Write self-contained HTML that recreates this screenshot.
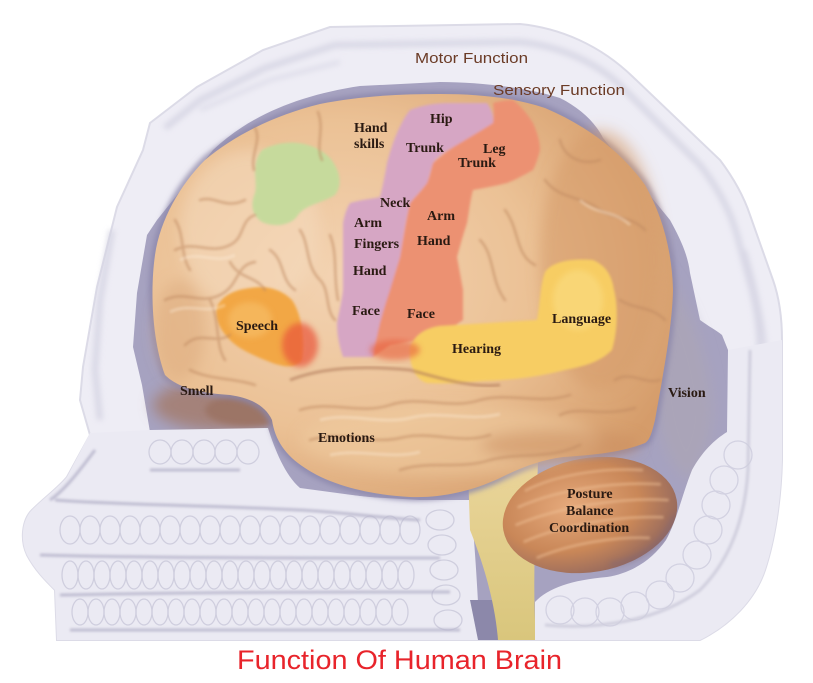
<!DOCTYPE html>
<html><head><meta charset="utf-8"><style>
html,body{margin:0;padding:0;background:#fff;}
svg{display:block;}
.l{font-family:"Liberation Serif",serif;font-weight:bold;font-size:14px;fill:#2a1a12;}
.t{font-family:"Liberation Sans",sans-serif;font-size:15px;fill:#6b3b26;}
</style></head><body>
<svg width="813" height="683" viewBox="0 0 813 683" xmlns="http://www.w3.org/2000/svg">
<defs>
<filter id="b1" x="-10%" y="-10%" width="120%" height="120%"><feGaussianBlur stdDeviation="1.2"/></filter>
<filter id="b3" x="-20%" y="-20%" width="140%" height="140%"><feGaussianBlur stdDeviation="3"/></filter>
<filter id="b6" x="-30%" y="-30%" width="160%" height="160%"><feGaussianBlur stdDeviation="7"/></filter>
<radialGradient id="brain" cx="0.35" cy="0.45" r="0.7">
<stop offset="0" stop-color="#f3d3b2"/><stop offset="0.55" stop-color="#ebc195"/><stop offset="1" stop-color="#d59c6a"/>
</radialGradient>
<radialGradient id="cereb" cx="0.4" cy="0.4" r="0.65">
<stop offset="0" stop-color="#e6aa7c"/><stop offset="0.6" stop-color="#c98758"/><stop offset="1" stop-color="#93685e"/>
</radialGradient>
<linearGradient id="stem" x1="0" y1="0" x2="0" y2="1">
<stop offset="0" stop-color="#ead59a"/><stop offset="1" stop-color="#d9c67c"/>
</linearGradient>
</defs>

<!-- head silhouette -->
<path d="M150,123 L197,87 L263,50 L330,27 L520,24 C560,28 600,45 633,77 L720,160 C735,180 745,200 750,215 L773,280 C780,300 782,320 782,340 L782,460 C781,500 775,540 765,570 C755,600 730,625 700,640 L57,640 L55,590 C45,580 35,570 27,555 C20,540 22,520 32,510 C45,497 58,488 67,477 L90,435 L80,400 L83,367 L97,287 L117,207 L143,150 Z" fill="#eeedf5" stroke="#dcdbe7" stroke-width="2"/>
<!-- skull band shading -->
<g filter="url(#b3)" fill="none" stroke="#d4d3e2" opacity="0.85">
<path d="M165,128 L200,100 L265,68 L335,45 L520,42 C560,46 595,62 620,85 L700,165 C718,188 730,210 737,235 L752,290 C758,315 760,335 760,360 L760,470" stroke-width="6"/>
<path d="M112,230 L100,300 L95,370 L100,420" stroke-width="6"/>
<path d="M745,250 C757,290 765,330 768,370 L770,480 C768,530 760,570 740,600" stroke-width="3"/>
<path d="M200,110 L270,80 L340,62" stroke-width="3"/>
</g>

<!-- cavity -->
<path d="M213,150 C250,115 300,95 360,86 L440,82 C480,82 530,88 560,98 C580,108 595,122 603,138 L670,220 C680,238 688,255 690,273 L700,320 C708,326 716,330 722,335 L728,350 L728,435 C726,455 720,470 712,480 L700,500 L690,530 L670,565 L620,590 L540,600 L535,640 L480,640 L470,500 L420,502 L300,490 L277,468 L268,435 L150,432 L142,385 L133,347 L137,293 L147,235 L157,220 Z" fill="#a6a2c0"/>
<path d="M655,260 C690,300 705,350 712,400 C714,430 705,460 690,480 C670,470 660,440 655,400 Z" fill="#aaa4b8" filter="url(#b6)"/>
<ellipse cx="225" cy="405" rx="72" ry="26" fill="#a4827a" filter="url(#b6)"/>
<ellipse cx="250" cy="410" rx="45" ry="16" fill="#9c7466" filter="url(#b3)"/>

<!-- face rings -->
<path d="M90,433 L150,430 L268,428 C275,450 285,475 300,488 L367,497 L420,500 L470,500 C475,540 478,600 480,640 L57,640 L55,590 C45,580 35,570 27,555 C20,540 22,520 32,510 C45,497 58,488 67,477 Z" fill="#ebeaf3"/>
<g fill="none" stroke="#c4c3d6" stroke-width="1.3" opacity="0.7">
<ellipse cx="160" cy="452" rx="11" ry="12"/><ellipse cx="182" cy="452" rx="11" ry="12"/><ellipse cx="204" cy="452" rx="11" ry="12"/><ellipse cx="226" cy="452" rx="11" ry="12"/><ellipse cx="248" cy="452" rx="11" ry="12"/>
<ellipse cx="70" cy="530" rx="10" ry="14"/><ellipse cx="90" cy="530" rx="10" ry="14"/><ellipse cx="110" cy="530" rx="10" ry="14"/><ellipse cx="130" cy="530" rx="10" ry="14"/><ellipse cx="150" cy="530" rx="10" ry="14"/><ellipse cx="170" cy="530" rx="10" ry="14"/><ellipse cx="190" cy="530" rx="10" ry="14"/><ellipse cx="210" cy="530" rx="10" ry="14"/><ellipse cx="230" cy="530" rx="10" ry="14"/><ellipse cx="250" cy="530" rx="10" ry="14"/><ellipse cx="270" cy="530" rx="10" ry="14"/><ellipse cx="290" cy="530" rx="10" ry="14"/><ellipse cx="310" cy="530" rx="10" ry="14"/><ellipse cx="330" cy="530" rx="10" ry="14"/><ellipse cx="350" cy="530" rx="10" ry="14"/><ellipse cx="370" cy="530" rx="10" ry="14"/><ellipse cx="390" cy="530" rx="10" ry="14"/><ellipse cx="410" cy="530" rx="10" ry="14"/>
<ellipse cx="70" cy="575" rx="8" ry="14"/><ellipse cx="86" cy="575" rx="8" ry="14"/><ellipse cx="102" cy="575" rx="8" ry="14"/><ellipse cx="118" cy="575" rx="8" ry="14"/><ellipse cx="134" cy="575" rx="8" ry="14"/><ellipse cx="150" cy="575" rx="8" ry="14"/><ellipse cx="166" cy="575" rx="8" ry="14"/><ellipse cx="182" cy="575" rx="8" ry="14"/><ellipse cx="198" cy="575" rx="8" ry="14"/><ellipse cx="214" cy="575" rx="8" ry="14"/><ellipse cx="230" cy="575" rx="8" ry="14"/><ellipse cx="246" cy="575" rx="8" ry="14"/><ellipse cx="262" cy="575" rx="8" ry="14"/><ellipse cx="278" cy="575" rx="8" ry="14"/><ellipse cx="294" cy="575" rx="8" ry="14"/><ellipse cx="310" cy="575" rx="8" ry="14"/><ellipse cx="326" cy="575" rx="8" ry="14"/><ellipse cx="342" cy="575" rx="8" ry="14"/><ellipse cx="358" cy="575" rx="8" ry="14"/><ellipse cx="374" cy="575" rx="8" ry="14"/><ellipse cx="390" cy="575" rx="8" ry="14"/><ellipse cx="406" cy="575" rx="8" ry="14"/>
<ellipse cx="80" cy="612" rx="8" ry="13"/><ellipse cx="96" cy="612" rx="8" ry="13"/><ellipse cx="112" cy="612" rx="8" ry="13"/><ellipse cx="128" cy="612" rx="8" ry="13"/><ellipse cx="144" cy="612" rx="8" ry="13"/><ellipse cx="160" cy="612" rx="8" ry="13"/><ellipse cx="176" cy="612" rx="8" ry="13"/><ellipse cx="192" cy="612" rx="8" ry="13"/><ellipse cx="208" cy="612" rx="8" ry="13"/><ellipse cx="224" cy="612" rx="8" ry="13"/><ellipse cx="240" cy="612" rx="8" ry="13"/><ellipse cx="256" cy="612" rx="8" ry="13"/><ellipse cx="272" cy="612" rx="8" ry="13"/><ellipse cx="288" cy="612" rx="8" ry="13"/><ellipse cx="304" cy="612" rx="8" ry="13"/><ellipse cx="320" cy="612" rx="8" ry="13"/><ellipse cx="336" cy="612" rx="8" ry="13"/><ellipse cx="352" cy="612" rx="8" ry="13"/><ellipse cx="368" cy="612" rx="8" ry="13"/><ellipse cx="384" cy="612" rx="8" ry="13"/><ellipse cx="400" cy="612" rx="8" ry="13"/>
<ellipse cx="440" cy="520" rx="14" ry="10"/><ellipse cx="442" cy="545" rx="14" ry="10"/><ellipse cx="444" cy="570" rx="14" ry="10"/><ellipse cx="446" cy="595" rx="14" ry="10"/><ellipse cx="448" cy="620" rx="14" ry="10"/>
</g>
<g fill="none" stroke="#b7b5cb" stroke-width="3" filter="url(#b1)" opacity="0.85">
<path d="M150,470 L240,470"/>
<path d="M55,500 C120,505 200,505 300,510 C340,512 380,518 420,520"/>
<path d="M40,555 C150,558 300,558 440,558"/>
<path d="M60,595 C200,592 330,592 450,592"/>
<path d="M70,630 L460,630"/>
<path d="M95,450 C80,470 65,490 50,500"/>
</g>
<path d="M470,600 L497,600 L500,640 L478,640 Z" fill="#8c88aa"/>

<!-- brainstem -->
<path d="M468,470 L538,462 C536,520 532,580 536,640 L498,640 C495,600 482,560 470,530 Z" fill="url(#stem)"/>

<!-- cerebellum -->
<g transform="rotate(-10 590 515)">
<ellipse cx="590" cy="515" rx="88" ry="57" fill="url(#cereb)"/>
<g fill="none" stroke="#f0c298" stroke-width="2.5" opacity="0.55" filter="url(#b1)">
<path d="M530,480 C560,470 610,470 650,480"/>
<path d="M520,495 C560,485 615,485 665,497"/>
<path d="M515,512 C560,502 620,502 670,514"/>
<path d="M520,530 C560,520 615,520 662,530"/>
<path d="M530,548 C565,540 610,540 645,548"/>
</g>
</g>
<path d="M610,565 C640,560 665,545 675,515" fill="none" stroke="#7f6678" stroke-width="5" opacity="0.5" filter="url(#b3)"/>

<!-- right rings -->
<path d="M535,640 L535,602 C548,588 572,580 607,577 C632,573 652,560 666,540 C677,520 682,495 692,470 C702,452 714,440 727,432 L728,350 L782,340 L782,460 C781,500 775,540 765,570 C755,600 730,625 700,640 Z" fill="#ebeaf3"/>
<g fill="none" stroke="#c6c5d8" stroke-width="1.3" opacity="0.65">
<ellipse cx="560" cy="610" rx="14" ry="14"/><ellipse cx="585" cy="612" rx="14" ry="14"/><ellipse cx="610" cy="612" rx="14" ry="14"/><ellipse cx="635" cy="606" rx="14" ry="14"/><ellipse cx="660" cy="595" rx="14" ry="14"/><ellipse cx="680" cy="578" rx="14" ry="14"/><ellipse cx="697" cy="555" rx="14" ry="14"/><ellipse cx="708" cy="530" rx="14" ry="14"/><ellipse cx="716" cy="505" rx="14" ry="14"/><ellipse cx="724" cy="480" rx="14" ry="14"/><ellipse cx="738" cy="455" rx="14" ry="14"/>
</g>
<path d="M545,625 C600,630 660,620 700,590 C730,560 745,520 748,470 L750,350" fill="none" stroke="#cfcedd" stroke-width="3" filter="url(#b1)"/>

<!-- cerebrum -->
<path d="M165,375 C152,340 150,290 155,255 C160,220 180,185 205,160 C235,135 275,115 320,104 C360,96 400,94 440,94 C480,94 515,98 545,108 C585,125 620,150 645,185 C662,215 672,250 673,290 C672,330 662,380 655,420 C652,432 650,440 645,443 C620,453 590,455 563,457 C540,460 520,468 500,478 C470,492 440,498 410,497 C370,495 330,485 305,468 C285,455 275,440 272,420 C265,405 250,398 230,395 C200,393 178,388 165,375 Z" fill="none" stroke="#8c87ab" stroke-width="6" filter="url(#b3)"/>
<path d="M165,375 C152,340 150,290 155,255 C160,220 180,185 205,160 C235,135 275,115 320,104 C360,96 400,94 440,94 C480,94 515,98 545,108 C585,125 620,150 645,185 C662,215 672,250 673,290 C672,330 662,380 655,420 C652,432 650,440 645,443 C620,453 590,455 563,457 C540,460 520,468 500,478 C470,492 440,498 410,497 C370,495 330,485 305,468 C285,455 275,440 272,420 C265,405 250,398 230,395 C200,393 178,388 165,375 Z" fill="url(#brain)"/>
<g filter="url(#b6)">
<ellipse cx="600" cy="260" rx="60" ry="130" fill="#d69b69" opacity="0.55"/>
<ellipse cx="250" cy="230" rx="70" ry="80" fill="#f5dbbf" opacity="0.5"/>
<ellipse cx="450" cy="440" rx="150" ry="35" fill="#f0cba0" opacity="0.5"/>
<ellipse cx="560" cy="445" rx="80" ry="15" fill="#c98e60" opacity="0.5"/>
<ellipse cx="180" cy="330" rx="25" ry="50" fill="#dcaa7c" opacity="0.5"/>
</g>

<!-- colored regions -->
<g filter="url(#b1)">
<path d="M262,150 C280,140 310,138 330,158 C340,170 343,185 335,195 C322,203 305,205 298,215 C292,225 275,228 262,222 C252,215 250,205 255,193 C258,180 250,165 262,150 Z" fill="#c6da9c"/>
<path d="M493,103 C500,101 507,100 513,100 C522,107 528,115 533,123 C537,132 540,141 540,150 C538,158 536,164 533,170 C524,175 515,180 507,183 C495,186 484,188 473,190 C470,201 469,212 467,223 C463,235 460,246 457,257 C459,268 461,279 463,290 C463,300 463,310 463,320 C455,325 450,330 447,333 C430,338 410,342 390,345 L373,357 C376,335 380,318 387,297 C392,283 396,270 400,257 C403,240 406,220 410,203 C416,196 422,190 427,183 C430,176 431,170 433,163 C442,155 451,148 460,143 C470,137 482,130 493,123 C494,116 494,109 493,103 Z" fill="#ec9172"/>
<path d="M410,110 C425,104 440,103 450,103 L487,103 C492,110 494,117 493,123 C482,130 470,137 460,143 C448,150 438,156 433,163 C430,172 429,178 427,183 C420,192 414,198 410,203 C405,222 403,240 400,257 C396,270 393,280 390,290 C386,302 383,312 380,323 C377,335 375,346 373,357 L343,357 C339,345 337,335 337,323 C339,312 342,300 343,290 C343,265 343,245 343,223 C345,213 347,208 350,203 C360,200 370,199 380,197 C383,185 385,175 387,163 C390,152 393,142 397,133 C401,124 405,116 410,110 Z" fill="#d6a6c4"/>
<path d="M217,307 C222,296 233,290 250,288 C268,285 282,290 292,300 C302,315 305,340 302,360 C296,368 285,368 270,362 C255,356 240,350 230,340 C220,330 214,318 217,307 Z" fill="#f2a745"/>
<path d="M410,347 C415,335 425,328 440,326 L537,320 C540,305 540,285 545,272 C552,262 570,258 593,260 C605,265 612,275 614,290 C618,305 618,330 612,350 C600,362 585,366 565,370 C545,375 520,380 483,381 C460,383 440,384 427,383 C415,380 408,362 410,347 Z" fill="#f7cd64"/>
</g>
<ellipse cx="300" cy="345" rx="18" ry="22" fill="#e9553a" opacity="0.7" filter="url(#b3)"/>
<ellipse cx="395" cy="350" rx="25" ry="10" fill="#e8603e" opacity="0.6" filter="url(#b3)"/>
<ellipse cx="578" cy="300" rx="25" ry="30" fill="#fbe08a" opacity="0.5" filter="url(#b3)"/>
<ellipse cx="250" cy="320" rx="22" ry="18" fill="#f7c06a" opacity="0.6" filter="url(#b3)"/>

<!-- sulci -->
<g fill="none" stroke="#c08a62" stroke-width="2.5" opacity="0.55" filter="url(#b1)" stroke-linecap="round">
<path d="M175,250 C195,240 210,255 230,245 C245,238 240,220 255,215"/>
<path d="M165,300 C185,290 200,305 220,295 C240,285 235,265 255,262"/>
<path d="M185,345 C200,330 215,345 230,335"/>
<path d="M200,200 C215,195 225,210 245,200"/>
<path d="M230,262 C240,280 255,275 265,290"/>
<path d="M300,230 C310,245 305,265 320,280 C330,290 325,310 335,320"/>
<path d="M318,112 C325,130 315,145 322,160"/>
<path d="M255,128 C262,140 250,155 254,170"/>
<path d="M330,235 C338,255 333,275 338,300"/>
<path d="M545,180 C560,200 580,195 600,210 C615,220 630,215 645,230"/>
<path d="M505,210 C520,230 515,255 535,265"/>
<path d="M560,140 C565,160 585,165 600,160"/>
<path d="M620,300 C635,310 650,305 665,320"/>
<path d="M615,380 C630,370 645,385 660,380"/>
<path d="M480,240 C495,255 490,280 505,300"/>
<path d="M300,410 C330,400 360,415 390,405 C420,395 450,410 480,400 C510,392 540,405 570,395"/>
<path d="M310,440 C340,430 370,445 400,438 C430,430 460,445 490,435"/>
<path d="M400,470 C430,460 460,470 490,460 C520,452 550,460 580,445"/>
<path d="M560,415 C580,405 600,418 635,408"/>
<path d="M190,370 C210,380 235,378 255,385"/>
<path d="M175,220 C185,235 180,255 190,270"/>
<path d="M210,300 C220,320 215,345 225,360"/>
<path d="M270,250 C285,260 280,280 295,290"/>
</g>
<path d="M290,380 C320,368 360,365 410,370 C440,378 470,388 500,385" fill="none" stroke="#b07a5a" stroke-width="3" opacity="0.6" filter="url(#b1)"/>
<g fill="none" stroke="#fff3e2" stroke-width="3" opacity="0.35" filter="url(#b1)">
<path d="M180,260 C200,250 215,265 235,255"/>
<path d="M170,312 C190,302 205,315 225,305"/>
<path d="M320,420 C350,412 380,425 410,418 C440,410 470,422 500,414"/>
<path d="M330,455 C360,448 390,460 420,452"/>
<path d="M580,200 C595,215 615,210 630,225"/>
</g>

<!-- labels -->
<text class="t" x="415" y="63" textLength="113" lengthAdjust="spacingAndGlyphs">Motor Function</text>
<text class="t" x="493" y="95" textLength="132" lengthAdjust="spacingAndGlyphs">Sensory Function</text>
<text class="l" x="354" y="132">Hand</text>
<text class="l" x="354" y="148">skills</text>
<text class="l" x="430" y="123">Hip</text>
<text class="l" x="406" y="152">Trunk</text>
<text class="l" x="483" y="153">Leg</text>
<text class="l" x="458" y="167">Trunk</text>
<text class="l" x="380" y="207">Neck</text>
<text class="l" x="354" y="227">Arm</text>
<text class="l" x="427" y="220">Arm</text>
<text class="l" x="354" y="248">Fingers</text>
<text class="l" x="417" y="245">Hand</text>
<text class="l" x="353" y="275">Hand</text>
<text class="l" x="352" y="315">Face</text>
<text class="l" x="407" y="318">Face</text>
<text class="l" x="236" y="330">Speech</text>
<text class="l" x="552" y="323">Language</text>
<text class="l" x="452" y="353">Hearing</text>
<text class="l" x="180" y="395">Smell</text>
<text class="l" x="668" y="397">Vision</text>
<text class="l" x="318" y="442">Emotions</text>
<text class="l" x="567" y="498">Posture</text>
<text class="l" x="566" y="515">Balance</text>
<text class="l" x="549" y="532">Coordination</text>

<text x="237" y="669" textLength="325" lengthAdjust="spacingAndGlyphs" font-family="'Liberation Sans', sans-serif" font-size="27" fill="#e8242b">Function Of Human Brain</text>
</svg>
</body></html>
